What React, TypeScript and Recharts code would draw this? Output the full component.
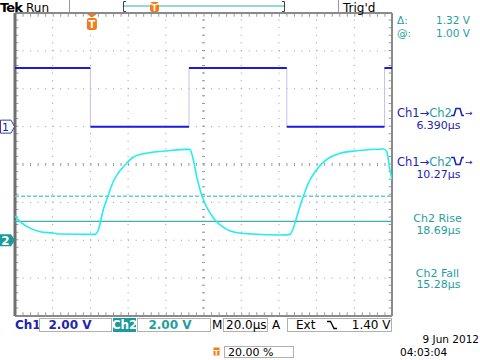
import { ComposedChart, Line, XAxis, YAxis, ReferenceLine } from "recharts";

// time in µs (10 div x 20 µs), vertical in divisions (8 div)
const gridTimes = [20, 40, 60, 80, 100, 120, 140, 160, 180];
const gridDivs = [-3, -2, -1, 1, 2, 3];
const voltsPerDiv = 2;

// Ch1: square wave, edges (first edge is falling)
const ch1EdgeTimes = [40, 92.3, 144.2, 196];
const ch1High = 3.1;
const ch1Low = 0;
const ch1Offset = 1.0; // div

// Ch2: RC-ish response
const ch2Offset = -2.0; // div
const ch2Times = [0, 2.7, 6.4, 13.3, 20.2, 24, 42.4, 44.2, 46.8, 49.5, 52.1, 54.8, 58.4, 61.9, 67.2, 72.5, 81.3, 90.2, 92.8, 94.6, 96.4, 99.0, 102.5, 106.1, 111.4, 116.7, 125.6, 141.5, 145.9, 147.6, 150.3, 152.9, 155.6, 159.2, 162.7, 167.1, 172.4, 181.3, 195.4, 197.2, 198.9, 200];
const ch2Volts = [1.28, 0.98, 0.72, 0.45, 0.38, 0.33, 0.31, 0.54, 1.6, 2.39, 3.09, 3.55, 3.97, 4.33, 4.55, 4.64, 4.73, 4.8, 4.8, 4.24, 3.36, 2.39, 1.6, 1.07, 0.63, 0.42, 0.33, 0.28, 0.31, 0.63, 1.51, 2.3, 3.01, 3.62, 4.03, 4.38, 4.59, 4.73, 4.82, 4.68, 3.71, 3.2];

// cursors (Ch2)
const cursorAt = 1.0;
const cursorDelta = 1.32;
const triggerTime = 40;

const measurements = [
  { label: "Ch1→Ch2", edge: "rise", value: "6.390µs" },
  { label: "Ch1→Ch2", edge: "fall", value: "10.27µs" },
  { label: "Ch2 Rise", edge: "", value: "18.69µs" },
  { label: "Ch2 Fall", edge: "", value: "15.28µs" },
];

const BLUE = "#2323b0";
const TRACE1 = "#1c1cd6";
const EDGE1 = "#c2c2f2";
const TEAL = "#1f9e9e";
const CYAN = "#22eeee";
const ORANGE = "#f07d1a";
const GRID = "#9a9a9a";
const FONT = "DejaVu Sans, sans-serif";

const plot = { left: 15, top: 13, width: 377, height: 303 };

const toDiv1 = (v: number) => ch1Offset + v / voltsPerDiv;
const toDiv2 = (v: number) => ch2Offset + v / voltsPerDiv;

// full step trace (light) and level segments (dark)
const ch1Trace: { t: number; y: number | null }[] = [{ t: 0, y: toDiv1(ch1High) }];
const ch1Levels: { t: number; y: number | null }[] = [{ t: 0, y: toDiv1(ch1High) }];
let level = ch1High;
ch1EdgeTimes.forEach((t) => {
  const next = level === ch1High ? ch1Low : ch1High;
  ch1Trace.push({ t, y: toDiv1(level) }, { t, y: toDiv1(next) });
  ch1Levels.push({ t, y: toDiv1(level) }, { t, y: null }, { t, y: toDiv1(next) });
  level = next;
});
ch1Trace.push({ t: 200, y: toDiv1(level) });
ch1Levels.push({ t: 200, y: toDiv1(level) });

const ch2Data = ch2Times.map((t, i) => ({ t, y: toDiv2(ch2Volts[i]) }));

const divToPx = (d: number) => plot.top + ((4 - d) / 8) * plot.height;
const timeToPx = (t: number) => plot.left + (t / 200) * plot.width;

export default function App() {
  const m1y = divToPx(ch1Offset);
  const m2y = divToPx(ch2Offset);
  const tx = timeToPx(triggerTime) + 1.5;
  return (
    <div style={{ position: "fixed", left: 0, top: 0, width: 480, height: 360, background: "#fff", fontFamily: FONT }}>
      <ComposedChart width={480} height={360} margin={{ top: 13, left: 15, right: 88, bottom: 44 }}>
        <XAxis type="number" dataKey="t" domain={[0, 200]} hide allowDataOverflow />
        <YAxis type="number" dataKey="y" domain={[-4, 4]} hide allowDataOverflow />
        {gridTimes.map((t) => (
          <ReferenceLine key={"vx" + t} x={t} stroke={GRID} strokeDasharray="1 6.575" />
        ))}
        {gridDivs.map((d) => (
          <ReferenceLine key={"hy" + d} y={d} stroke={GRID} strokeDasharray="1 6.54" />
        ))}
        {/* centre graticule with minor ticks */}
        <ReferenceLine y={0} stroke={GRID} strokeWidth={3} strokeDasharray="1 6.54" />
        <ReferenceLine x={100} stroke={GRID} strokeWidth={3} strokeDasharray="1 6.575" />
        {/* border ticks */}
        <ReferenceLine y={3.94} stroke={GRID} strokeWidth={3} strokeDasharray="1 6.54" />
        <ReferenceLine y={-3.94} stroke={GRID} strokeWidth={3} strokeDasharray="1 6.54" />
        <ReferenceLine x={1} stroke={GRID} strokeWidth={3} strokeDasharray="1 6.575" />
        <ReferenceLine x={199} stroke={GRID} strokeWidth={3} strokeDasharray="1 6.575" />
        {/* border */}
        <ReferenceLine y={4} stroke="#8a8a8a" strokeWidth={2} />
        <ReferenceLine y={-4} stroke="#8a8a8a" strokeWidth={2} />
        <ReferenceLine x={0} stroke="#707070" strokeWidth={3} />
        <ReferenceLine x={200} stroke="#8a8a8a" strokeWidth={2} />
        {/* cursors */}
        <ReferenceLine y={toDiv2(cursorAt)} stroke="#3fb0b0" strokeWidth={1.2} />
        <ReferenceLine y={toDiv2(cursorAt + cursorDelta)} stroke="#66cccc" strokeWidth={1.5} strokeDasharray="4 2" />
        <Line data={ch1Trace} dataKey="y" type="linear" stroke={EDGE1} strokeWidth={1} dot={false} activeDot={false} isAnimationActive={false} />
        <Line data={ch1Levels} dataKey="y" type="linear" stroke={TRACE1} strokeWidth={2} dot={false} activeDot={false} isAnimationActive={false} />
        <Line data={ch2Data} dataKey="y" type="monotone" stroke={CYAN} strokeWidth={1.6} dot={false} activeDot={false} isAnimationActive={false} />
      </ComposedChart>

      <svg width={480} height={360} style={{ position: "absolute", left: 0, top: 0, pointerEvents: "none" }} fontFamily={FONT}>
        {/* top status bar */}
        <text x={0} y={12} fontSize={13} fontWeight="bold" fill="#000" letterSpacing={-0.9}>Tek</text>
        <text x={26} y={12} fontSize={12} fill="#000">Run</text>
        <line x1={69.5} y1={0} x2={69.5} y2={12} stroke="#9a9a9a" />
        <path d="M126,1.5 H123.5 V11.5 H126" fill="none" stroke="#444" />
        <path d="M282,1.5 H284.5 V11.5 H282" fill="none" stroke="#444" />
        <line x1={124} y1={6} x2={284} y2={6} stroke="#30b0b0" strokeWidth={1.2} />
        <path d="M150,2 H159 L154.5,5 Z" fill={ORANGE} />
        <rect x={150} y={4} width={9} height={8} rx={2} fill={ORANGE} />
        <text x={154.5} y={11} fontSize={8} fontWeight="bold" fill="#fff" textAnchor="middle">T</text>
        <line x1={338.5} y1={0} x2={338.5} y2={12} stroke="#9a9a9a" />
        <text x={343} y={11.5} fontSize={12} fill="#000">Trig'd</text>

        {/* cursor readout */}
        <text x={397} y={24} fontSize={10.5} fill={TEAL}>Δ:</text>
        <text x={470} y={24} fontSize={10.5} fill={TEAL} textAnchor="end">{cursorDelta.toFixed(2)} V</text>
        <text x={397} y={37} fontSize={10.5} fill={TEAL}>@:</text>
        <text x={470} y={37} fontSize={10.5} fill={TEAL} textAnchor="end">{cursorAt.toFixed(2)} V</text>

        {/* measurements */}
        {measurements.map((m, i) => {
          const base = [116.5, 165.5, 222, 276.5][i];
          if (m.edge) {
            const sx = 451;
            const sy = base - 1;
            const sym =
              m.edge === "rise"
                ? `M${sx},${sy} H${sx + 3} L${sx + 5},${sy - 7} H${sx + 9} L${sx + 11},${sy} H${sx + 13}`
                : `M${sx},${sy - 7} H${sx + 3} L${sx + 5},${sy} H${sx + 9} L${sx + 11},${sy - 7} H${sx + 13}`;
            return (
              <g key={i}>
                <text x={397} y={base} fontSize={11.5} fill={BLUE}>
                  Ch1→<tspan fill={TEAL}>Ch2</tspan>
                </text>
                <path d={sym} fill="none" stroke={BLUE} strokeWidth={1.6} />
                <text x={465} y={base - 0.5} fontSize={9} fill={BLUE}>→</text>
                <text x={438.5} y={base + 12} fontSize={11} fill={BLUE} textAnchor="middle">{m.value}</text>
              </g>
            );
          }
          return (
            <g key={i}>
              <text x={437.5} y={base} fontSize={11} fill={TEAL} textAnchor="middle">{m.label}</text>
              <text x={438.5} y={base + 11.5} fontSize={11} fill={TEAL} textAnchor="middle">{m.value}</text>
            </g>
          );
        })}

        {/* channel markers */}
        <path d={`M0.5,${m1y - 6.5} H11 L14.5,${m1y} L11,${m1y + 6.5} H0.5 Z`} fill="#fff" stroke="#3a3aa8" />
        <text x={5.5} y={m1y + 4.5} fontSize={11} fill={BLUE} textAnchor="middle">1</text>
        <path d={`M0,${m2y - 6} H11 L15,${m2y} L11,${m2y + 6} H0 Z`} fill="#1a9a9a" />
        <text x={5.5} y={m2y + 5} fontSize={12} fontWeight="bold" fill="#fff" textAnchor="middle">2</text>

        {/* trigger position marker */}
        <path d={`M${tx - 5},14 H${tx + 5} L${tx},17.5 Z`} fill={ORANGE} />
        <rect x={tx - 5} y={18} width={10} height={12} rx={2.5} fill={ORANGE} />
        <text x={tx} y={28} fontSize={10} fontWeight="bold" fill="#fff" textAnchor="middle">T</text>

        {/* bottom status bar */}
        <text x={15} y={328.5} fontSize={12} fontWeight="bold" fill={BLUE}>Ch1</text>
        <rect x={39.5} y={318.5} width={72} height={13} fill="#fff" stroke="#b0b0b0" />
        <text x={70} y={328.5} fontSize={12} fontWeight="bold" fill={BLUE} textAnchor="middle">2.00 V</text>
        <rect x={113} y={318} width={23} height={14} fill="#1a9a9a" />
        <text x={124.5} y={328.5} fontSize={12} fontWeight="bold" fill="#fff" textAnchor="middle">Ch2</text>
        <rect x={137.5} y={318.5} width={73} height={13} fill="#fff" stroke="#b0b0b0" />
        <text x={170} y={328.5} fontSize={12} fontWeight="bold" fill={TEAL} textAnchor="middle">2.00 V</text>
        <text x={212} y={328.5} fontSize={12} fill="#000">M</text>
        <rect x={223.5} y={318.5} width={44} height={13} fill="#fff" stroke="#b0b0b0" />
        <text x={226} y={328.5} fontSize={12} fill="#000">20.0µs</text>
        <text x={272} y={328.5} fontSize={12} fill="#000">A</text>
        <rect x={287.5} y={318.5} width={104} height={13} fill="#fff" stroke="#b0b0b0" />
        <text x={296} y={328.5} fontSize={12} fill="#000">Ext</text>
        <path d="M327,321.5 H330.5 L334,328.5 H337" fill="none" stroke="#000" strokeWidth={1.3} />
        <text x={390.5} y={328.5} fontSize={12} fill="#000" textAnchor="end">1.40 V</text>

        <rect x={213.5} y={347.5} width={6} height={8} fill={ORANGE} />
        <text x={216.5} y={354.5} fontSize={7} fontWeight="bold" fill="#fff" textAnchor="middle">T</text>
        <rect x={224.5} y={346.5} width={69} height={11} fill="#fff" stroke="#b0b0b0" />
        <text x={228} y={356} fontSize={11} fill="#000">20.00 %</text>

        <text x={479} y={343} fontSize={10.5} fill="#000" textAnchor="end">9 Jun  2012</text>
        <text x={400} y={356} fontSize={10.5} fill="#000">04:03:04</text>
      </svg>
    </div>
  );
}
